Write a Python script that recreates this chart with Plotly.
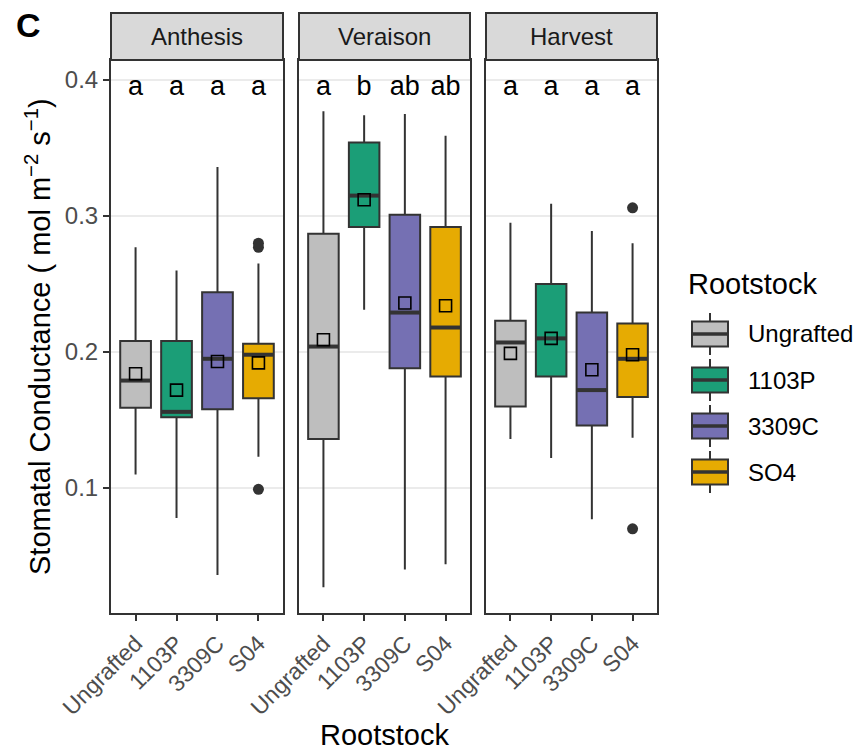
import plotly.graph_objects as go
from plotly.subplots import make_subplots

stages = ["Anthesis", "Veraison", "Harvest"]
rootstocks = ["Ungrafted", "1103P", "3309C", "SO4"]
tick_labels = ["Ungrafted", "1103P", "3309C", "S04"]
colors = ["#BEBEBE", "#1B9E77", "#7570B3", "#E6AB02"]

upper_whisker = [[0.277, 0.260, 0.336, 0.265],
                 [0.377, 0.374, 0.375, 0.359],
                 [0.295, 0.309, 0.289, 0.280]]
q3 = [[0.208, 0.208, 0.244, 0.206],
      [0.287, 0.354, 0.301, 0.292],
      [0.223, 0.250, 0.229, 0.221]]
median = [[0.179, 0.156, 0.195, 0.198],
          [0.204, 0.315, 0.229, 0.218],
          [0.207, 0.210, 0.172, 0.195]]
q1 = [[0.159, 0.152, 0.158, 0.166],
      [0.136, 0.292, 0.188, 0.182],
      [0.160, 0.182, 0.146, 0.167]]
lower_whisker = [[0.110, 0.078, 0.036, 0.123],
                 [0.027, 0.231, 0.040, 0.044],
                 [0.136, 0.122, 0.077, 0.137]]
means = [[0.184, 0.172, 0.193, 0.192],
         [0.209, 0.312, 0.236, 0.234],
         [0.199, 0.210, 0.187, 0.198]]
outlier_stage = [0, 0, 0, 2, 2]
outlier_root = [3, 3, 3, 3, 3]
outlier_value = [0.277, 0.280, 0.099, 0.306, 0.070]
letters = [["a", "a", "a", "a"],
           ["a", "b", "ab", "ab"],
           ["a", "a", "a", "a"]]
y_ticks = [0.1, 0.2, 0.3, 0.4]

FONT = "Liberation Sans, Arial, Helvetica, sans-serif"
W, H = 857, 753
L, R, T, B = 111, 657, 13, 613
pw, ph = R - L, B - T
BOX_W = 0.75
EDGE = "#333333"
LW = 2.0

def px_x(p):
    return (p - L) / pw

def px_y(p):
    return (B - p) / ph

panel_px = [(111, 283), (299, 470), (486, 657)]
domains = [[px_x(a), px_x(b)] for a, b in panel_px]
ytop = px_y(60)

fig = make_subplots(rows=1, cols=3, shared_yaxes=True, horizontal_spacing=0.02)

for s in range(3):
    col = s + 1
    for r in range(4):
        xpos = r + 1
        fig.add_trace(go.Box(
            x=[xpos], q1=[q1[s][r]], median=[median[s][r]], q3=[q3[s][r]],
            lowerfence=[lower_whisker[s][r]], upperfence=[upper_whisker[s][r]],
            width=BOX_W, whiskerwidth=0, boxpoints=False,
            fillcolor=colors[r], line=dict(color=EDGE, width=LW),
            name=rootstocks[r], showlegend=False, hoverinfo="skip"),
            row=1, col=col)
        fig.add_trace(go.Scatter(
            x=[xpos - BOX_W / 2, xpos + BOX_W / 2],
            y=[median[s][r], median[s][r]], mode="lines",
            line=dict(color=EDGE, width=4), showlegend=False,
            hoverinfo="skip"), row=1, col=col)
    ox = [outlier_root[i] + 1 for i in range(len(outlier_value)) if outlier_stage[i] == s]
    oy = [outlier_value[i] for i in range(len(outlier_value)) if outlier_stage[i] == s]
    if ox:
        fig.add_trace(go.Scatter(x=ox, y=oy, mode="markers",
                                 marker=dict(color=EDGE, size=11),
                                 showlegend=False, hoverinfo="skip"), row=1, col=col)
    fig.add_trace(go.Scatter(x=[1, 2, 3, 4], y=means[s], mode="markers",
                             marker=dict(symbol="square-open", color="black", size=12,
                                         line=dict(width=1.6, color="black")),
                             showlegend=False, hoverinfo="skip"), row=1, col=col)
    fig.add_trace(go.Scatter(x=[1, 2, 3, 4], y=[0.394] * 4, mode="text",
                             text=letters[s], textposition="middle center",
                             textfont=dict(size=27, color="black", family=FONT),
                             showlegend=False, hoverinfo="skip"), row=1, col=col)

for s in range(3):
    xa = "xaxis" if s == 0 else f"xaxis{s+1}"
    ya = "yaxis" if s == 0 else f"yaxis{s+1}"
    fig.layout[xa].update(
        domain=domains[s], range=[0.4, 4.6], tickmode="array",
        tickvals=[1, 2, 3, 4], ticktext=tick_labels, tickangle=-45,
        ticks="outside", ticklen=6, tickcolor=EDGE, tickwidth=2,
        tickfont=dict(size=23, color="#4D4D4D", family=FONT),
        showgrid=False, zeroline=False, showline=True, mirror=True,
        linecolor=EDGE, linewidth=LW)
    fig.layout[ya].update(
        domain=[0, ytop], range=[0.0081, 0.4147], tickmode="array",
        tickvals=y_ticks, ticktext=[f"{v:.1f}" for v in y_ticks],
        ticks="outside" if s == 0 else "", ticklen=6, tickcolor=EDGE, tickwidth=2,
        showticklabels=(s == 0),
        tickfont=dict(size=24, color="#4D4D4D", family=FONT),
        showgrid=True, gridcolor="#EBEBEB", gridwidth=1.5, zeroline=False,
        showline=True, mirror=True, linecolor=EDGE, linewidth=LW)

shapes = []
annotations = []
for s in range(3):
    x0, x1 = domains[s]
    shapes.append(dict(type="rect", xref="paper", yref="paper", x0=x0, x1=x1,
                       y0=ytop, y1=1.0, fillcolor="#D9D9D9",
                       line=dict(color=EDGE, width=LW), layer="above"))
    annotations.append(dict(text=stages[s], xref="paper", yref="paper",
                            x=(x0 + x1) / 2, y=px_y(36), showarrow=False,
                            xanchor="center", yanchor="middle",
                            font=dict(size=24, color="#1A1A1A", family=FONT)))

# custom legend
legend_centers = [334, 380, 426, 472]
for r in range(4):
    c = legend_centers[r]
    shapes.append(dict(type="line", xref="paper", yref="paper",
                       x0=px_x(710), x1=px_x(710), y0=px_y(c - 21), y1=px_y(c + 21),
                       line=dict(color=EDGE, width=LW)))
    shapes.append(dict(type="rect", xref="paper", yref="paper",
                       x0=px_x(692), x1=px_x(728), y0=px_y(c + 12.5), y1=px_y(c - 12.5),
                       fillcolor=colors[r], line=dict(color=EDGE, width=LW)))
    shapes.append(dict(type="line", xref="paper", yref="paper",
                       x0=px_x(692), x1=px_x(728), y0=px_y(c), y1=px_y(c),
                       line=dict(color=EDGE, width=3.5)))
    annotations.append(dict(text=rootstocks[r], xref="paper", yref="paper",
                            x=px_x(746), y=px_y(c), showarrow=False,
                            xanchor="left", yanchor="middle",
                            font=dict(size=24, color="black", family=FONT)))
annotations.append(dict(text="Rootstock", xref="paper", yref="paper",
                        x=px_x(686), y=px_y(284), showarrow=False,
                        xanchor="left", yanchor="middle",
                        font=dict(size=29, color="black", family=FONT)))

annotations.append(dict(text="Rootstock", xref="paper", yref="paper",
                        x=px_x(384), y=px_y(735), showarrow=False,
                        xanchor="center", yanchor="middle",
                        font=dict(size=29, color="black", family=FONT)))
annotations.append(dict(text="Stomatal Conductance ( mol m<sup>\u22122</sup> s<sup>\u22121</sup>)",
                        xref="paper", yref="paper", x=px_x(38), y=px_y(337),
                        showarrow=False, textangle=-90, xanchor="center", yanchor="middle",
                        font=dict(size=29, color="black", family=FONT)))
annotations.append(dict(text="<b>C</b>", xref="paper", yref="paper",
                        x=px_x(28), y=px_y(25), showarrow=False,
                        xanchor="center", yanchor="middle",
                        font=dict(size=34, color="black", family=FONT)))

fig.update_layout(
    width=W, height=H,
    margin=dict(l=L, r=W - R, t=T, b=H - B, autoexpand=False),
    paper_bgcolor="white", plot_bgcolor="white",
    shapes=shapes, annotations=annotations,
    boxmode="overlay", showlegend=False,
)

fig.write_html("out.html")
